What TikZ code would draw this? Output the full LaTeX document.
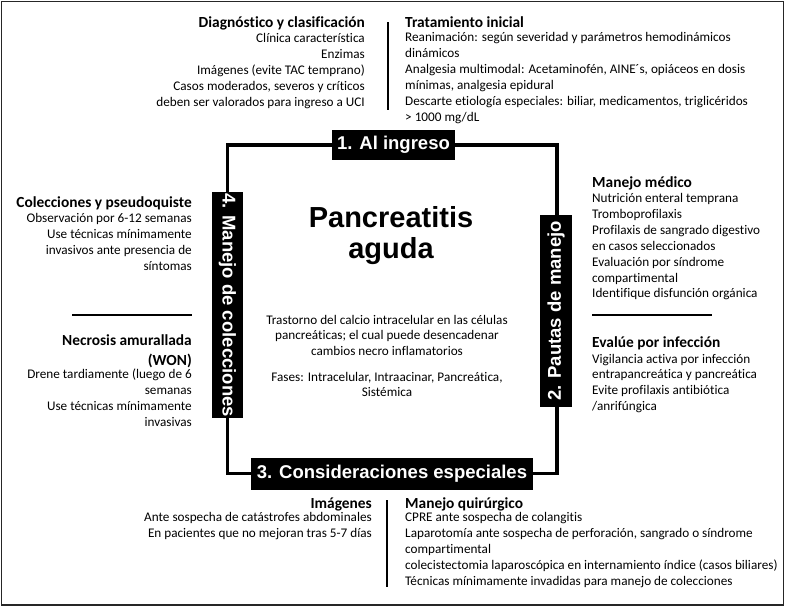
\documentclass[tikz,border=0pt]{standalone}
\usepackage{fontspec}
\setmainfont[Ligatures=NoCommon]{Carlito}
\newfontfamily\labfont{Liberation Sans}
\tikzset{
  body/.style={inner sep=0pt, font=\fontsize{13.2}{15.8}\selectfont},
  head/.style={inner sep=0pt, font=\fontsize{15.4}{18}\selectfont\bfseries},
  labelbox/.style={fill=black, text=white, inner sep=0pt, font=\labfont\fontsize{18.5}{20}\selectfont\bfseries},
  sq/.style={line width=3.5pt, line join=miter},
  sep/.style={line width=1.2pt},
}
\newcommand{\txtlines}[5]{%
  \foreach \t [count=\i] in {#5} {
    \node[body,anchor=#2] (#1-\i) at (#3, {#4+(\i-1)*15.9}) {\t};
  }%
}
\begin{document}
\begin{tikzpicture}[x=1pt,y=-1pt]
\useasboundingbox (0,0) rectangle (786,608);
\draw[line width=1.4pt, black!85] (1.5,1.5) rectangle (783.5,605);

% square
\coordinate (ctl) at (227.5,145);
\coordinate (ctr) at (557,145);
\coordinate (cbr) at (557,473.5);
\coordinate (cbl) at (227.5,473.5);
\draw[sq] (ctl) -- (ctr) -- (cbr) -- (cbl) -- cycle;

% label boxes
\node[labelbox, minimum width=123pt, minimum height=30pt] (b1) at (393.5,145) {1. Al ingreso};
\node[labelbox, minimum width=192pt, minimum height=32pt, rotate=90] (b2) at (556,311) {2. Pautas de manejo};
\node[labelbox, minimum width=282pt, minimum height=32pt] (b3) at (392,474) {3. Consideraciones especiales};
\node[labelbox, minimum width=226pt, minimum height=31pt, rotate=-90] (b4) at (227.5,305) {4. Manejo de colecciones};

% title
\node[inner sep=0pt, anchor=base, font=\labfont\fontsize{29}{31}\selectfont\bfseries] (t1) at (391,227) {Pancreatitis};
\node[inner sep=0pt, anchor=base, font=\labfont\fontsize{29}{31}\selectfont\bfseries] (t2) at (391,258) {aguda};

% center text
\txtlines{ct}{base}{387}{324}{{Trastorno del calcio intracelular en las células},{pancreáticas; el cual puede desencadenar},{cambios necro inflamatorios}}
\txtlines{cf}{base}{387}{381}{{Fases: Intracelular, Intraacinar, Pancreática,},{Sistémica}}

% top left
\node[head, anchor=base east] (h1) at (365,27) {Diagnóstico y clasificación};
\txtlines{tl}{base east}{365}{42.5}{{Clínica característica},{Enzimas},{Imágenes (evite TAC temprano)},{Casos moderados, severos y críticos},{deben ser valorados para ingreso a UCI}}
\coordinate (v1a) at (388,22);
\coordinate (v1b) at (388,110);
\draw[sep] (v1a) -- (v1b);

% top right
\node[head, anchor=base west] (h2) at (405,27) {Tratamiento inicial};
\txtlines{tr}{base west}{405}{41.5}{{Reanimación: según severidad y parámetros hemodinámicos},{dinámicos},{Analgesia multimodal: Acetaminofén, AINE´s, opiáceos en dosis},{mínimas, analgesia epidural},{Descarte etiología especiales: biliar, medicamentos, triglicéridos},{> 1000 mg/dL}}

% left
\node[head, anchor=base east] (h3) at (192,207) {Colecciones y pseudoquiste};
\txtlines{lc}{base east}{192}{222.5}{{Observación por 6-12 semanas},{Use técnicas mínimamente},{invasivos ante presencia de},{síntomas}}
\coordinate (s1a) at (72,315);
\coordinate (s1b) at (192,315);
\draw[sep] (s1a) -- (s1b);
\node[head, anchor=base east] (h4) at (192,345) {Necrosis amurallada};
\node[head, anchor=base east] (h4b) at (192,365) {(WON)};
\txtlines{ln}{base east}{192}{378.5}{{Drene tardiamente (luego de 6},{semanas},{Use técnicas mínimamente},{invasivas}}

% right
\node[head, anchor=base west] (h5) at (592,187) {Manejo médico};
\txtlines{rm}{base west}{592}{202.5}{{Nutrición enteral temprana},{Tromboprofilaxis},{Profilaxis de sangrado digestivo},{en casos seleccionados},{Evaluación por síndrome},{compartimental},{Identifique disfunción orgánica}}
\coordinate (s2a) at (592,315);
\coordinate (s2b) at (712,315);
\draw[sep] (s2a) -- (s2b);
\node[head, anchor=base west] (h6) at (592,347) {Evalúe por infección};
\txtlines{ri}{base west}{592}{363}{{Vigilancia activa por infección},{entrapancreática y pancreática},{Evite profilaxis antibiótica},{/anrifúngica}}

% bottom
\node[head, anchor=base east] (h7) at (372,508) {Imágenes};
\txtlines{bi}{base east}{372}{521.5}{{Ante sospecha de catástrofes abdominales},{En pacientes que no mejoran tras 5-7 días}}
\coordinate (v2a) at (387,500);
\coordinate (v2b) at (387,587);
\draw[sep] (v2a) -- (v2b);
\node[head, anchor=base west] (h8) at (405,508) {Manejo quirúrgico};
\txtlines{bq}{base west}{405}{521.5}{{CPRE ante sospecha de colangitis},{Laparotomía ante sospecha de perforación, sangrado o síndrome},{compartimental},{colecistectomia laparoscópica en internamiento índice (casos biliares)},{Técnicas mínimamente invadidas para manejo de colecciones}}
\end{tikzpicture}
\end{document}
